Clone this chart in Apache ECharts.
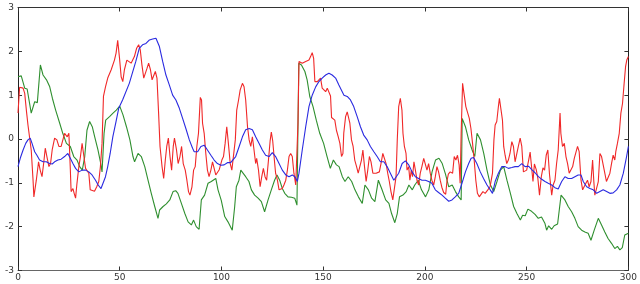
<!DOCTYPE html>
<html>
<head>
<meta charset="utf-8">
<script src="https://cdn.jsdelivr.net/npm/echarts@6/dist/echarts.min.js"></script>
<style>html,body{margin:0;padding:0;background:#fff;}#c{width:640px;height:284px;}</style>
</head>
<body>
<div id="c"></div>
<script>
var xTicks = [0, 50, 100, 150, 200, 250, 300];
var yTicks = [-3, -2, -1, 0, 1, 2, 3];

var greenData = [
[0,1.42],[1.6,1.44],[3.3,1.16],[4.5,1.14],[6.5,0.59],[8.2,0.85],[9.5,0.83],[11,1.69],[12.3,1.46],[14,1.35],[15.6,1.19],[16.9,0.93],[18.5,0.66],[20.5,0.36],[22,0.13],[23.8,-0.1],[25.7,-0.17],[27.4,-0.4],[29,-0.48],[30.3,-0.63],[31.6,-0.71],[32.8,-0.4],[33.9,0.2],[35.2,0.4],[36.5,0.28],[37.7,0.05],[39.3,-0.25],[40.5,-0.52],[41.3,-0.75],[42.3,0.13],[43.1,0.43],[45,0.51],[46.7,0.59],[48.3,0.66],[50,0.75],[51.6,0.55],[53.3,0.28],[55,-0.02],[56.5,-0.4],[57.3,-0.52],[59,-0.33],[60.6,-0.4],[62.3,-0.63],[63.9,-0.94],[65.5,-1.24],[67.2,-1.54],[68.8,-1.81],[69.6,-1.62],[71.3,-1.54],[72.9,-1.48],[74.6,-1.39],[76.2,-1.2],[77.5,-1.18],[78.6,-1.24],[80.3,-1.47],[82,-1.7],[83.6,-1.89],[85.2,-1.96],[86.3,-1.85],[87.6,-2.0],[89,-2.06],[90.1,-1.39],[91.7,-1.28],[93.4,-1.01],[95,-0.97],[97.2,-0.9],[98.3,-1.16],[99.9,-1.4],[101.6,-1.77],[103.2,-1.89],[105.3,-2.08],[106.5,-1.54],[107.3,-1.09],[108.6,-0.94],[109.5,-0.71],[111.9,-0.86],[113.5,-0.97],[114.7,-1.16],[116.3,-1.28],[118,-1.35],[119.6,-1.43],[121.2,-1.66],[122.9,-1.39],[124.5,-1.16],[126.1,-0.94],[127.3,-0.82],[128.6,-0.94],[129.9,-1.13],[131.1,-1.24],[132.7,-1.32],[134.4,-1.33],[136,-1.35],[137.1,-1.51],[138,1.73],[139.3,1.69],[141,1.54],[142.1,1.35],[143.4,0.97],[145,0.74],[146.6,0.43],[148.3,0.13],[150.2,-0.1],[151.9,-0.4],[153.5,-0.67],[155,-0.48],[156.5,-0.59],[157.8,-0.63],[159.4,-0.86],[160.7,-0.97],[162.3,-0.86],[164,-0.97],[165.6,-1.16],[167.3,-1.32],[169.2,-1.47],[170.5,-1.05],[172.2,-1.16],[173.8,-1.35],[175.4,-1.43],[177.1,-0.94],[178.7,-1.13],[180.7,-1.39],[182.3,-1.47],[183.6,-1.7],[185.2,-1.91],[186.4,-1.7],[187.5,-1.32],[189.2,-1.28],[190.8,-1.2],[192.1,-1.05],[193.8,-1.16],[195,-1.05],[196.7,-0.94],[198.3,-1.16],[200.3,-1.32],[201.9,-1.16],[203.5,-0.75],[205.2,-0.48],[206.9,-0.44],[208.5,-0.56],[210.1,-0.8],[211.7,-1.09],[213.4,-1.05],[215,-1.2],[216.6,-1.32],[217.8,-1.39],[218.3,0.47],[219.9,0.28],[221.5,-0.02],[223.2,-0.25],[224.5,-0.4],[225.6,0.13],[227.3,-0.02],[228.9,-0.33],[230.5,-0.71],[232.2,-1.05],[233.8,-1.2],[235.4,-0.97],[237.1,-0.71],[238.7,-0.63],[240.3,-0.94],[242,-1.24],[243.6,-1.54],[245.2,-1.7],[246.9,-1.85],[248,-1.74],[249.3,-1.75],[250.6,-1.6],[252.4,-1.65],[254.1,-1.72],[255.7,-1.81],[257.3,-1.78],[259,-1.93],[259.8,-2.08],[260.8,-1.98],[262.3,-2.06],[263.5,-1.98],[265.2,-1.94],[266.9,-1.28],[267.7,-1.24],[268.8,-1.39],[270.4,-1.54],[272.1,-1.66],[273.7,-1.81],[275.3,-2.0],[277,-2.08],[278.6,-2.12],[280.2,-2.15],[281.6,-2.31],[283.2,-2.08],[285.2,-1.81],[286.8,-1.96],[288.4,-2.12],[290,-2.27],[291.7,-2.38],[293.3,-2.5],[294.6,-2.45],[295.8,-2.53],[297,-2.48],[298.2,-2.19],[300,-2.15]
];

var redData = [
[0,0.59],[0.8,1.18],[2.5,1.16],[3.3,1.04],[4.1,0.66],[4.9,0.32],[5.7,0.28],[6.5,-0.25],[7.4,-0.94],[7.8,-1.32],[9,-0.94],[10.1,-0.52],[10.9,-0.71],[11.8,-0.86],[12.6,-0.56],[13.4,-0.21],[14.2,-0.4],[15.2,-0.63],[16,-0.56],[16.8,-0.25],[18,0.02],[19.1,-0.02],[20.1,-0.17],[21.2,-0.17],[22.1,-0.14],[22.9,0.13],[23.7,0.14],[24.2,0.05],[25,0.13],[25.7,-0.67],[26.1,-1.2],[27,-1.13],[27.6,-1.24],[28.3,-1.35],[28.9,-1.05],[29.9,-0.63],[30.7,-0.4],[31.5,-0.1],[32.4,-0.4],[33.2,-0.67],[34,-0.63],[34.8,-0.78],[35.5,-1.16],[36.4,-1.2],[37.6,-1.19],[38.7,-1.09],[39.7,-0.97],[40.5,-0.63],[41.3,-0.1],[42,0.97],[43,1.19],[44.1,1.39],[45.8,1.58],[47.4,1.8],[48.2,1.96],[49,2.25],[49.9,1.84],[50.7,1.42],[51.5,1.31],[52.3,1.58],[53.5,1.8],[54.4,1.84],[55.6,1.73],[56.4,1.69],[57.2,1.88],[58.3,2.07],[59.3,2.15],[60.1,2.03],[60.9,1.69],[61.8,1.39],[62.6,1.35],[63.4,1.61],[64.2,1.73],[65.1,1.58],[65.9,1.35],[66.7,1.39],[67.5,1.54],[68.3,1.39],[69.1,0.59],[69.8,-0.17],[70.8,-0.63],[71.6,-0.9],[72.4,-0.48],[73.1,-0.17],[73.9,0.02],[74.7,-0.4],[75.5,-0.71],[76.3,-0.17],[76.9,0.02],[77.9,-0.25],[78.7,-0.56],[79.6,-0.4],[80.4,-0.17],[81.2,-0.56],[82.2,-0.71],[83,-0.94],[83.8,-1.2],[84.5,-1.28],[85.5,-1.09],[86.3,-0.71],[87.1,-0.63],[87.9,-0.17],[88.7,0.13],[89.6,0.95],[90.2,0.89],[90.7,0.36],[91.5,0.13],[92.3,-0.33],[93.1,-0.71],[93.9,-0.86],[94.8,-0.71],[95.6,-0.52],[96.4,-0.67],[97.2,-0.82],[98,-0.82],[98.9,-0.7],[100.2,-0.48],[101,-0.4],[101.8,-0.1],[102.6,0.28],[103.4,-0.1],[104.3,-0.56],[105.1,-0.71],[105.9,-0.67],[106.8,-0.02],[107.5,0.66],[108.4,0.89],[109.2,1.12],[110.3,1.27],[111.1,1.19],[111.9,0.89],[112.8,0.28],[113.6,-0.02],[114.4,-0.17],[115.2,0.05],[116,-0.25],[116.8,-0.56],[117.3,-0.44],[118.2,-0.71],[119,-1.09],[119.8,-0.86],[120.6,-0.67],[121.4,-0.86],[122.2,-0.94],[123.1,-0.48],[123.9,-0.05],[124.5,0.16],[125.2,-0.05],[126,-0.48],[126.6,-0.78],[127.5,-0.94],[128.3,-1.16],[129.1,-1.2],[129.9,-1.13],[130.7,-1.05],[131.6,-0.94],[132.4,-0.71],[133.2,-0.4],[134,-0.33],[134.8,-0.4],[135.6,-0.78],[136.5,-1.05],[136.9,-1.09],[137.6,0.36],[138.1,1.77],[138.9,1.8],[139.7,1.73],[140.5,1.77],[141.4,1.77],[142.2,1.73],[143,1.8],[143.8,1.88],[144.6,1.97],[145.3,1.84],[145.9,1.31],[147.1,1.31],[147.9,1.29],[148.7,1.39],[149.5,1.16],[150.3,1.19],[151.2,1.08],[152,1.16],[152.8,1.17],[153.6,0.98],[154.1,0.49],[154.9,0.5],[155.7,0.43],[156.5,0.2],[157.4,0.05],[158.2,-0.1],[159,-0.4],[159.7,-0.33],[160.1,0.13],[161,0.51],[161.8,0.62],[162.3,0.66],[163.1,0.36],[163.9,-0.02],[164.7,-0.17],[165.5,-0.48],[166.4,-0.63],[167.2,-0.78],[168,-0.75],[168.8,-0.48],[169.5,-0.25],[170.3,-0.63],[171.1,-0.97],[171.9,-0.71],[172.7,-0.4],[173.5,-0.52],[174.4,-0.78],[175.2,-0.82],[176,-0.78],[176.8,-0.75],[177.6,-0.75],[178.4,-0.56],[179.3,-0.33],[180.1,-0.34],[180.9,-0.56],[181.7,-0.78],[182.5,-0.97],[183.3,-1.2],[184.2,-1.39],[185,-1.39],[185.8,-0.86],[186.4,-0.02],[187.1,0.74],[187.9,0.93],[188.7,0.66],[189.2,0.13],[189.9,-0.17],[190.7,-0.33],[191.2,-0.71],[192,-0.63],[192.6,-0.94],[193.3,-0.71],[193.9,-0.86],[194.6,-0.52],[195.3,-0.71],[196.1,-0.94],[196.9,-1.05],[197.7,-0.78],[198.5,-0.63],[199.4,-0.44],[200.2,-0.48],[201,-0.71],[201.8,-0.56],[202.6,-0.78],[203.4,-0.94],[204.3,-1.05],[205.1,-0.86],[205.9,-0.63],[206.7,-0.75],[207.5,-0.94],[208.3,-1.1],[209.2,-1.22],[210.2,-1.26],[210.8,-0.97],[211.5,-0.8],[212.4,-0.75],[213.6,-0.78],[214.4,-0.4],[215.2,-0.48],[216,-0.37],[216.8,-0.59],[217.3,-1.01],[217.8,0.13],[218.5,1.27],[219.3,1.23],[220.1,0.74],[220.9,0.7],[221.8,0.47],[222.6,0.24],[223.4,-0.1],[224.2,-0.48],[225,-0.94],[225.8,-1.24],[226.7,-1.32],[227.6,-1.3],[228.5,-1.2],[229.6,-1.24],[230.9,-1.16],[232,-1.09],[233.2,-0.78],[233.9,-0.02],[234.5,0.32],[235.3,0.4],[236.1,0.74],[236.6,0.93],[237.4,0.91],[238.1,0.43],[238.7,-0.17],[239.4,-0.37],[240.2,-0.56],[241,-0.48],[241.8,-0.33],[242.7,-0.06],[243.5,-0.17],[244.3,-0.52],[245.1,-0.56],[245.9,-0.17],[246.8,0.02],[247.6,-0.17],[248.4,-0.75],[249.2,-0.78],[250,-0.71],[250.9,-0.5],[251.7,-0.3],[252.5,-0.33],[253.1,-0.97],[253.8,-0.57],[254.7,-0.7],[255.5,-0.9],[256.3,-1.28],[257.2,-0.86],[258,-0.66],[258.8,-0.71],[259.6,-0.37],[260.4,-0.25],[261.2,-0.8],[262.3,-1.28],[263,-1.05],[263.9,-0.94],[264.7,-0.56],[265.5,-0.25],[266.4,0.59],[266.8,0.13],[267.6,-0.17],[268.5,-0.1],[269.3,-0.4],[270.1,-0.56],[270.9,-0.78],[271.7,-0.82],[272.6,-0.63],[273.4,-0.44],[274.2,-0.4],[275,-0.17],[275.8,-0.29],[276.7,-0.94],[277.5,-1.16],[278.3,-1.2],[279.1,-1.01],[279.9,-0.94],[280.7,-1.09],[281.6,-0.97],[282.4,-0.48],[283,-0.97],[283.5,-1.28],[284.3,-1.32],[285.2,-0.97],[286,-0.33],[286.8,-0.4],[287.6,-0.59],[288.4,-0.78],[289.2,-0.97],[290,-0.97],[290.9,-0.78],[291.7,-0.56],[292.5,-0.37],[293.3,-0.48],[293.8,-0.29],[294.6,-0.1],[295.5,0.13],[296.3,0.59],[297.1,0.81],[297.9,1.27],[298.6,1.65],[299.2,1.8],[300,1.88]
];

var blueData = [
[0,-0.63],[1.1,-0.44],[2.5,-0.25],[3.8,-0.1],[4.9,-0.02],[6,0.02],[6.9,-0.1],[8.2,-0.29],[9.3,-0.37],[10.6,-0.48],[12.3,-0.52],[13.9,-0.52],[15.5,-0.56],[16.8,-0.57],[18,-0.52],[19.6,-0.48],[21.2,-0.46],[22.9,-0.4],[24.5,-0.33],[25.7,-0.44],[27,-0.56],[28.3,-0.67],[29.9,-0.75],[31.5,-0.71],[33.2,-0.71],[34.8,-0.75],[36.4,-0.82],[38.1,-0.94],[39.4,-1.05],[40.8,-1.13],[41.7,-1.09],[43,-0.86],[44.1,-0.63],[45.3,-0.33],[46.6,0.05],[48.2,0.4],[49.5,0.7],[51.5,0.9],[54.7,1.27],[57.9,1.77],[59.6,2.07],[61.2,2.15],[62.9,2.18],[64.6,2.26],[66.2,2.28],[67.8,2.3],[68.6,2.26],[69.5,2.11],[71.1,1.77],[72.7,1.46],[74.4,1.23],[76,1.0],[77.6,0.89],[79.3,0.7],[80.9,0.47],[82.5,0.24],[84.2,-0.02],[85.8,-0.21],[86.6,-0.29],[88.3,-0.29],[89.9,-0.17],[91.5,-0.14],[93.1,-0.25],[94.8,-0.37],[96.4,-0.48],[98,-0.56],[99.7,-0.6],[101.3,-0.59],[102.9,-0.54],[104.5,-0.54],[105.4,-0.56],[107,-0.4],[108.7,-0.17],[110.3,0.05],[111.9,0.21],[113.6,0.24],[115.2,0.21],[116.8,0.05],[118.5,-0.1],[120.1,-0.25],[121.7,-0.37],[123.4,-0.4],[125,-0.31],[126.6,-0.4],[128.3,-0.56],[129.9,-0.71],[131.6,-0.82],[133.2,-0.86],[134.8,-0.82],[136.1,-0.86],[137.3,-0.97],[138.1,-0.78],[139.7,-0.25],[141.4,0.28],[143,0.74],[144.6,1.0],[146.3,1.19],[147.9,1.31],[149.5,1.39],[151.2,1.46],[152.8,1.5],[154.4,1.46],[156.1,1.39],[157.7,1.23],[160.2,1.0],[161.8,0.97],[163.4,0.89],[165,0.74],[166.7,0.51],[168.3,0.28],[169.9,0.09],[171.6,-0.02],[173.2,-0.17],[174.9,-0.29],[176.5,-0.4],[178.1,-0.52],[179.8,-0.52],[181.4,-0.63],[183,-0.78],[184.7,-0.94],[185.5,-0.97],[187.1,-0.78],[188.8,-0.56],[190.4,-0.5],[192,-0.59],[193.7,-0.75],[195.3,-0.86],[196.9,-0.9],[198.5,-0.94],[200.2,-0.94],[201.8,-0.97],[203.4,-1.01],[205.1,-1.16],[206.7,-1.22],[208.4,-1.28],[210,-1.35],[211.7,-1.42],[213.3,-1.39],[214.9,-1.32],[216.6,-1.24],[218.2,-1.01],[219.9,-0.75],[221.5,-0.56],[222.7,-0.44],[223.9,-0.42],[225.5,-0.56],[227.2,-0.75],[228.8,-0.9],[230.5,-1.05],[232.1,-1.16],[233.2,-1.24],[234.5,-0.97],[236.1,-0.78],[237.8,-0.63],[239.4,-0.63],[241,-0.67],[242.7,-0.65],[244.3,-0.63],[245.9,-0.63],[247.6,-0.56],[249.2,-0.63],[250.9,-0.62],[252.5,-0.7],[254.1,-0.77],[255.8,-0.86],[257.4,-0.92],[259,-0.97],[260.6,-1.01],[262.3,-1.05],[263.9,-1.11],[265.5,-1.14],[267.2,-0.97],[268.8,-0.86],[270.4,-0.9],[272.1,-0.9],[273.7,-0.86],[275.3,-0.82],[276.7,-0.82],[277.8,-0.97],[279.5,-1.09],[281.1,-1.13],[282.7,-1.16],[284.4,-1.24],[286,-1.2],[287.6,-1.16],[289.3,-1.2],[290.9,-1.24],[292.5,-1.23],[294.2,-1.16],[295.8,-1.05],[297.5,-0.78],[299.1,-0.4],[300,-0.17]
];

var chart = echarts.init(document.getElementById('c'), null, {renderer: 'canvas'});
var labelStyle = {fontSize: 9, color: '#333', fontFamily: 'DejaVu Sans'};
function lineSeries(name, data, color) {
  return {
    name: name, type: 'line', data: data, showSymbol: false, symbol: 'none',
    lineStyle: {color: color, width: 1.1}, itemStyle: {color: color},
    animation: false, z: 2
  };
}
chart.setOption({
  animation: false,
  backgroundColor: '#fff',
  grid: {left: 18, right: 8.5, top: 7.5, bottom: 13.5, containLabel: false},
  xAxis: [
    {type: 'value', min: xTicks[0], max: xTicks[xTicks.length - 1], interval: 50, position: 'bottom',
     axisLine: {show: true, onZero: false, lineStyle: {color: '#666', width: 1}},
     axisTick: {show: true, inside: true, length: 4, lineStyle: {color: '#333'}},
     axisLabel: Object.assign({margin: 3}, labelStyle),
     splitLine: {show: false}},
    {type: 'value', min: xTicks[0], max: xTicks[xTicks.length - 1], interval: 50, position: 'top',
     axisLine: {show: true, onZero: false, lineStyle: {color: '#333', width: 1}},
     axisTick: {show: true, inside: true, length: 4, lineStyle: {color: '#333'}},
     axisLabel: {show: false}, splitLine: {show: false}}
  ],
  yAxis: [
    {type: 'value', min: yTicks[0], max: yTicks[yTicks.length - 1], interval: 1, position: 'left',
     axisLine: {show: true, onZero: false, lineStyle: {color: '#222', width: 1}},
     axisTick: {show: true, inside: true, length: 4, lineStyle: {color: '#333'}},
     axisLabel: Object.assign({margin: 4}, labelStyle),
     splitLine: {show: false}},
    {type: 'value', min: yTicks[0], max: yTicks[yTicks.length - 1], interval: 1, position: 'right',
     axisLine: {show: true, onZero: false, lineStyle: {color: '#222', width: 1}},
     axisTick: {show: true, inside: true, length: 4, lineStyle: {color: '#333'}},
     axisLabel: {show: false}, splitLine: {show: false}}
  ],
  series: [
    lineSeries('green', greenData, '#2f8f2f'),
    lineSeries('red', redData, '#f02828'),
    lineSeries('blue', blueData, '#2a2ae0')
  ]
});
</script>
</body>
</html>
